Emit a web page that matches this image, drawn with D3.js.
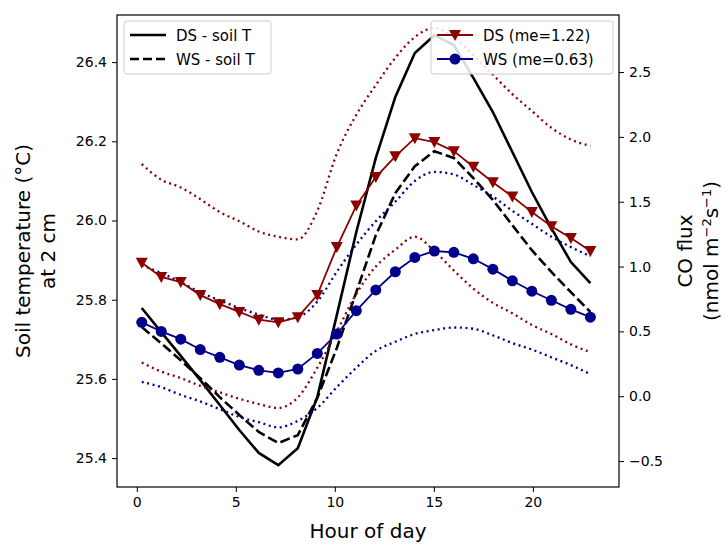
<!DOCTYPE html>
<html><head><meta charset="utf-8">
<script src="https://cdn.jsdelivr.net/npm/d3@7"></script>
<style>body{margin:0;background:#fff;font-family:"DejaVu Sans",sans-serif;}</style>
</head><body><div id="chart"></div>
<script>
"use strict";

var hours = d3.range(24).map(function(i) { return i; });
var dsSoilT = [25.779,25.718,25.658,25.597,25.534,25.471,25.413,25.382,25.425,25.554,25.761,25.971,
               26.158,26.312,26.423,26.468,26.443,26.36,26.274,26.173,26.072,25.981,25.895,25.842];
var wsSoilT = [25.731,25.690,25.647,25.602,25.554,25.509,25.466,25.438,25.458,25.552,25.678,25.819,
               25.963,26.069,26.137,26.175,26.158,26.107,26.052,25.988,25.925,25.870,25.819,25.769];
var dsFlux = [1.03,0.92,0.88,0.78,0.71,0.65,0.59,0.57,0.61,0.78,1.15,1.47,
              1.69,1.85,1.99,1.96,1.89,1.77,1.65,1.54,1.42,1.31,1.22,1.12];
var wsFlux = [0.57,0.50,0.44,0.36,0.30,0.24,0.20,0.18,0.21,0.33,0.48,0.66,
              0.82,0.96,1.07,1.12,1.11,1.06,0.98,0.89,0.81,0.74,0.67,0.61];
var dsUpper = [1.79,1.67,1.61,1.52,1.42,1.35,1.27,1.23,1.21,1.43,1.87,2.17,
               2.40,2.61,2.77,2.84,2.77,2.63,2.48,2.33,2.20,2.07,1.98,1.93];
var dsLower = [0.26,0.19,0.14,0.08,0.03,-0.02,-0.06,-0.09,-0.01,0.22,0.50,0.79,
               1.00,1.13,1.23,1.12,0.97,0.83,0.72,0.64,0.55,0.48,0.40,0.34];
var wsUpper = [1.01,0.95,0.88,0.80,0.74,0.68,0.63,0.59,0.61,0.73,0.96,1.17,
               1.35,1.50,1.66,1.73,1.71,1.63,1.54,1.43,1.33,1.23,1.15,1.08];
var wsLower = [0.11,0.07,0.01,-0.04,-0.10,-0.16,-0.20,-0.24,-0.19,-0.09,0.07,0.22,
               0.35,0.42,0.48,0.51,0.53,0.52,0.47,0.41,0.36,0.30,0.24,0.17];
var xTicks = [0,5,10,15,20];
var tTicks = [25.4,25.6,25.8,26.0,26.2,26.4];
var fTicks = [-0.5,0.0,0.5,1.0,1.5,2.0,2.5];

var W = 727, H = 544;
var m = {left:117, right:619, top:15, bottom:487};
var red = "#8b0000", blue = "#00008b";

var svg = d3.select("#chart").append("svg").attr("width",W).attr("height",H);
var x = d3.scaleLinear().domain([-1.0,24.35]).range([m.left,m.right]);
var yT = d3.scaleLinear().domain([25.327,26.519]).range([m.bottom,m.top]);
var yF = d3.scaleLinear().domain([-0.70,2.94]).range([m.bottom,m.top]);

// sample times (hour of day)
var xs = hours.map(function(h) { return 0.25 + h*0.985; });
function pts(vals) { return vals.map(function(v,i) { return [xs[i], v]; }); }

var lineT = d3.line().x(function(d){return x(d[0]);}).y(function(d){return yT(d[1]);});
var lineF = d3.line().x(function(d){return x(d[0]);}).y(function(d){return yF(d[1]);}).curve(d3.curveMonotoneX);
var lineF2 = d3.line().x(function(d){return x(d[0]);}).y(function(d){return yF(d[1]);});

var plot = svg.append("g");
plot.append("path").attr("d",lineT(pts(dsSoilT))).attr("fill","none").attr("stroke","#000").attr("stroke-width",2.6);
plot.append("path").attr("d",lineT(pts(wsSoilT))).attr("fill","none").attr("stroke","#000").attr("stroke-width",2.6).attr("stroke-dasharray","10,4");

[[dsUpper,red],[dsLower,red],[wsUpper,blue],[wsLower,blue]].forEach(function(s) {
    plot.append("path").attr("d",lineF(pts(s[0]))).attr("fill","none").attr("stroke",s[1])
        .attr("stroke-width",2.3).attr("stroke-dasharray","2,3.6");
});

plot.append("path").attr("d",lineF2(pts(dsFlux))).attr("fill","none").attr("stroke",red).attr("stroke-width",1.8);
var tri = "M-6,-5L6,-5L0,6Z";
plot.selectAll(".tri").data(pts(dsFlux)).enter().append("path")
    .attr("d",tri).attr("fill",red)
    .attr("transform",function(d){return "translate("+x(d[0])+","+yF(d[1])+")";});
plot.append("path").attr("d",lineF2(pts(wsFlux))).attr("fill","none").attr("stroke",blue).attr("stroke-width",1.8);
plot.selectAll(".dot").data(pts(wsFlux)).enter().append("circle")
    .attr("cx",function(d){return x(d[0]);}).attr("cy",function(d){return yF(d[1]);})
    .attr("r",5.5).attr("fill",blue);

// frame
svg.append("rect").attr("x",m.left).attr("y",m.top).attr("width",m.right-m.left).attr("height",m.bottom-m.top)
   .attr("fill","none").attr("stroke","#000").attr("stroke-width",1.2);

function styleAxis(g) {
    g.select(".domain").remove();
    g.selectAll("text").attr("font-size",14).attr("font-family","DejaVu Sans").attr("fill","#000");
    g.selectAll("line").attr("stroke","#000");
}
svg.append("g").attr("transform","translate(0,"+m.bottom+")")
   .call(d3.axisBottom(x).tickValues(xTicks).tickSize(5).tickPadding(5)).call(styleAxis);
svg.append("g").attr("transform","translate("+m.left+",0)")
   .call(d3.axisLeft(yT).tickValues(tTicks).tickFormat(d3.format(".1f")).tickSize(5).tickPadding(5)).call(styleAxis);
svg.append("g").attr("transform","translate("+m.right+",0)")
   .call(d3.axisRight(yF).tickValues(fTicks).tickFormat(d3.format(".1f")).tickSize(5).tickPadding(5)).call(styleAxis);

// axis labels
svg.append("text").attr("x",(m.left+m.right)/2).attr("y",538).attr("text-anchor","middle")
   .attr("font-size",20).text("Hour of day");
var lt = svg.append("text").attr("transform","translate(0,"+((m.top+m.bottom)/2)+") rotate(-90)")
   .attr("text-anchor","middle").attr("font-size",20);
lt.append("tspan").attr("x",0).attr("y",30).text("Soil temperature (°C)");
lt.append("tspan").attr("x",0).attr("y",55).text("at 2 cm");
var rt = svg.append("text").attr("transform","translate(0,"+((m.top+m.bottom)/2)+") rotate(-90)")
   .attr("text-anchor","middle").attr("font-size",20);
rt.append("tspan").attr("x",0).attr("y",692).text("CO flux");
rt.append("tspan").attr("x",0).attr("y",718).text("(nmol m")
  .append("tspan").attr("baseline-shift","super").attr("font-size",13).text("−2");
rt.append("tspan").text("s");
rt.append("tspan").attr("baseline-shift","super").attr("font-size",13).text("−1");
rt.append("tspan").text(")");

// legends
function legend(x0, y0, w, items) {
    var g = svg.append("g").attr("transform","translate("+x0+","+y0+")");
    g.append("rect").attr("width",w).attr("height",53).attr("rx",3).attr("fill","#fff")
     .attr("fill-opacity",0.85).attr("stroke","#ccc");
    items.forEach(function(it,i) {
        var yy = 14 + i*24;
        g.append("line").attr("x1",6).attr("x2",42).attr("y1",yy).attr("y2",yy)
         .attr("stroke",it.color).attr("stroke-width",it.marker ? 1.8 : 2.6)
         .attr("stroke-dasharray",it.dash || null);
        if (it.marker == "tri") g.append("path").attr("d",tri).attr("fill",it.color).attr("transform","translate(24,"+yy+")");
        if (it.marker == "dot") g.append("circle").attr("cx",24).attr("cy",yy).attr("r",5.5).attr("fill",it.color);
        g.append("text").attr("x",52).attr("y",yy+5.5).attr("font-size",15).text(it.label);
    });
}
legend(124,21,147,[{label:"DS - soil T",color:"#000"},{label:"WS - soil T",color:"#000",dash:"9,4"}]);
legend(431,21,182,[{label:"DS (me=1.22)",color:red,marker:"tri"},{label:"WS (me=0.63)",color:blue,marker:"dot"}]);
</script>
</body></html>
